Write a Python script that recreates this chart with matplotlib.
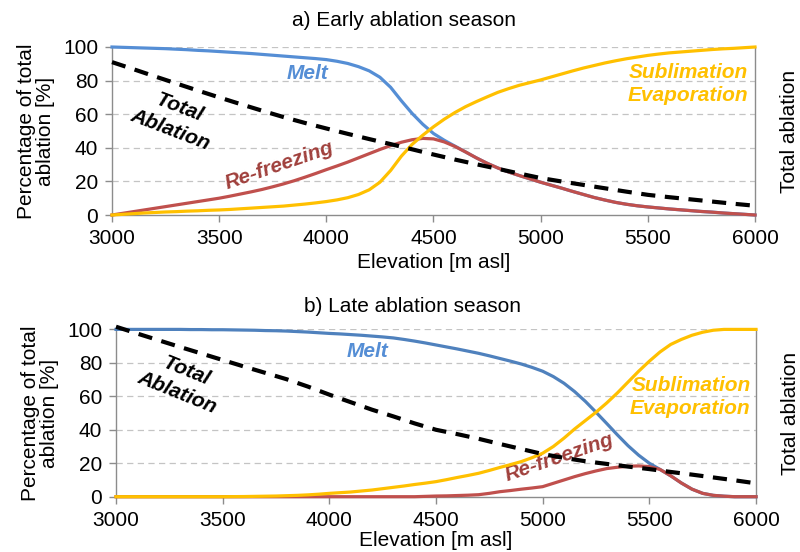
import matplotlib
matplotlib.use("Agg")
from matplotlib import pyplot as plt

plt.rcParams["font.family"] = ["Liberation Sans", "DejaVu Sans"]

# ---------------------------------------------------------------- data
elev = list(range(3000, 6001, 100))       # dashed total ablation
elev_f = list(range(3000, 6001, 50))      # contribution curves

# a) early ablation season [% of total ablation]
melt_a = [100, 99.8, 99.6, 99.4, 99.2, 99.0, 98.7, 98.4, 98.0, 97.7,
          97.3, 96.9, 96.5, 96.1, 95.6, 95.1, 94.6, 94.1, 93.6, 93.1,
          92.5, 91.5, 90.2, 88.3, 85.8, 82.0, 76.0, 68.0, 60.5, 54.0,
          48.5, 44.5, 41.0, 37.5, 34.0, 30.8, 28.0, 25.6, 23.5, 21.5,
          19.5, 17.7, 15.9, 14.0, 12.2, 10.4, 8.9, 7.5, 6.4, 5.5,
          4.8, 4.2, 3.6, 3.1, 2.6, 2.1, 1.7, 1.2, 0.8, 0.4, 0]
refreeze_a = [0, 1, 2, 3, 4, 5, 6, 7, 8, 9,
              10, 11.2, 12.5, 13.8, 15.2, 16.8, 18.5, 20.4, 22.5, 24.7,
              27.0, 29.2, 31.5, 34.0, 36.5, 39.0, 41.3, 43.3, 44.8, 45.6,
              45.3, 43.5, 40.8, 37.5, 34.0, 30.8, 28.0, 25.6, 23.5, 21.5,
              19.5, 17.7, 15.9, 14.0, 12.2, 10.4, 8.9, 7.5, 6.4, 5.5,
              4.8, 4.2, 3.6, 3.1, 2.6, 2.1, 1.7, 1.2, 0.8, 0.4, 0]
sublim_a = [0, 0.4, 0.8, 1.2, 1.5, 1.8, 2.0, 2.3, 2.5, 2.8,
            3.0, 3.3, 3.7, 4.1, 4.5, 4.9, 5.3, 5.9, 6.5, 7.2,
            8.0, 9.0, 10.3, 12.2, 15.0, 19.5, 26.5, 35.0, 42.0, 47.5,
            52.5, 57.0, 61.0, 64.5, 67.5, 70.3, 73.0, 75.2, 77.2, 78.8,
            80.4, 82.2, 84.0, 85.8, 87.5, 89.0, 90.5, 91.8, 93.0, 94.0,
            95.0, 95.8, 96.5, 97.0, 97.5, 98.0, 98.5, 98.9, 99.2, 99.6, 100]
total_a = [91, 86.8, 82.5, 78.3, 74.1, 70.0, 66.0, 62.1, 58.3, 54.8, 51.5,
           48.3, 45.2, 42.2, 39.1, 36.0, 33.0, 30.2, 27.5, 24.7, 22.0,
           19.9, 17.9, 15.9, 13.9, 12.0, 10.6, 9.3, 8.0, 6.7, 5.5]

# b) late ablation season
melt_b = [100, 100, 100, 100, 100, 100, 100, 99.9, 99.9, 99.8,
          99.8, 99.7, 99.6, 99.5, 99.3, 99.2, 99.0, 98.7, 98.4, 98.0,
          97.6, 97.3, 96.9, 96.5, 96.0, 95.5, 94.9, 94.0, 93.0, 91.9,
          90.7, 89.5, 88.3, 87.0, 85.7, 84.2, 82.6, 81.0, 79.3, 77.3,
          75.0, 71.8, 67.8, 62.8, 57.0, 50.5, 43.8, 37.0, 30.5, 24.8,
          20.0, 16.3, 12.5, 8.2, 4.5, 2.0, 0.8, 0.3, 0, 0, 0]
refreeze_b = [0, 0, 0, 0, 0, 0, 0, 0, 0, 0,
              0, 0, 0, 0, 0, 0, 0, 0, 0, 0,
              0, 0, 0, 0, 0, 0, 0, 0, 0, 0.2,
              0.4, 0.5, 0.7, 0.9, 1.2, 2.0, 3.0, 3.7, 4.5, 5.2,
              6.0, 8.0, 10.0, 12.0, 13.8, 15.4, 16.8, 17.6, 18.2, 18.4,
              18.0, 16.3, 12.5, 8.2, 4.5, 2.0, 0.8, 0.3, 0, 0, 0]
sublim_b = [0, 0, 0, 0, 0, 0, 0, 0, 0, 0,
            0, 0.05, 0.1, 0.2, 0.3, 0.4, 0.6, 0.8, 1.1, 1.5,
            2.0, 2.4, 2.8, 3.4, 4.0, 4.8, 5.6, 6.4, 7.3, 8.1,
            9.0, 10.2, 11.5, 12.7, 14.0, 15.7, 17.5, 19.2, 21.0, 23.3,
            26.0, 30.0, 35.0, 40.5, 45.5, 50.5, 56.0, 62.0, 68.5, 75.0,
            81.0, 86.5, 91.0, 94.0, 96.5, 98.3, 99.5, 100, 100, 100, 100]
total_b = [101.6, 97.5, 93.5, 89.5, 85.6, 81.7, 77.8, 74.0, 70.2, 65.8, 61.0,
           56.5, 52.0, 48.0, 43.8, 40.0, 37.4, 34.6, 31.5, 28.5, 25.5,
           23.2, 21.2, 19.6, 18.0, 16.5, 14.8, 13.2, 11.5, 9.8, 8.0]

x_ticks = [3000, 3500, 4000, 4500, 5000, 5500, 6000]
y_ticks = [0, 20, 40, 60, 80, 100]

yellow = "#FFC000"
red = "#C0504D"
spine_col = "#8C8C8C"
fs = 15

fig = plt.figure(figsize=(8, 5.52), dpi=100)
ax_a = fig.add_axes([112 / 800, 1 - 215 / 552, 643 / 800, 168 / 552])
ax_b = fig.add_axes([116 / 800, 1 - 496.7 / 552, 640 / 800, 167.3 / 552])


def style_axes(ax, xpad):
    ax.set_xlim(3000, 6000)
    ax.set_ylim(0, 100)
    ax.set_xticks(x_ticks)
    ax.set_yticks(y_ticks)
    ax.tick_params(labelsize=fs, length=5, width=1, color=spine_col, pad=5)
    for s in ["left", "bottom", "right"]:
        ax.spines[s].set_color(spine_col)
        ax.spines[s].set_linewidth(1)
    ax.spines["top"].set_visible(False)
    for v in y_ticks[1:]:
        ax.axhline(v, color="#C4C4C4", lw=0.9, ls=(0, (5, 3.5)), zorder=0)
    ax.set_xlabel("Elevation [m asl]", fontsize=fs, labelpad=xpad)
    ax.set_ylabel("Percentage of total\nablation [%]", fontsize=fs, labelpad=6,
                  linespacing=1.0)
    ax.text(1.054, 0.5, "Total ablation", transform=ax.transAxes, rotation=90,
            ha="center", va="center", fontsize=fs)


def draw(ax, melt, refreeze, sublim, total, blue):
    ax.plot(elev_f, melt, color=blue, lw=2.3, clip_on=False, zorder=3)
    ax.plot(elev_f, refreeze, color=red, lw=2.3, clip_on=False, zorder=4)
    ax.plot(elev_f, sublim, color=yellow, lw=2.3, clip_on=False, zorder=5)
    line, = ax.plot(elev, total, color="black", lw=3, clip_on=False, zorder=6)
    line.set_dashes((3.4, 2.3))
    line.set_dash_capstyle("butt")


lab = dict(fontsize=fs, fontweight="bold", fontstyle="italic")

# ----------------------------------------------- a) early ablation season
style_axes(ax_a, 4)
draw(ax_a, melt_a, refreeze_a, sublim_a, total_a, "#558ED5")
ax_a.text(3910, 84.5, "Melt", color="#558ED5", ha="center", va="center", **lab)
ax_a.text(3294, 57.5, "Total\nAblation", color="black", ha="center", va="center",
          rotation=-21, rotation_mode="anchor", linespacing=1.3, **lab)
ax_a.text(3780, 29.5, "Re-freezing", color="#A0403C", ha="center", va="center",
          rotation=19, rotation_mode="anchor", **lab)
ax_a.text(5967, 78, "Sublimation\nEvaporation", color=yellow, ha="right",
          va="center", multialignment="right", linespacing=1.3, **lab)
fig.text(404 / 800, 1 - 20 / 552, "a) Early ablation season", ha="center",
         va="center", fontsize=fs)

# ------------------------------------------------ b) late ablation season
style_axes(ax_b, 1)
draw(ax_b, melt_b, refreeze_b, sublim_b, total_b, "#4F81BD")
ax_b.text(4181, 86.5, "Melt", color="#558ED5", ha="center", va="center", **lab)
ax_b.text(3309, 68.5, "Total\nAblation", color="black", ha="center", va="center",
          rotation=-22, rotation_mode="anchor", linespacing=1.3, **lab)
ax_b.text(5080, 23.5, "Re-freezing", color="#A0403C", ha="center", va="center",
          rotation=19, rotation_mode="anchor", **lab)
ax_b.text(5975, 59.5, "Sublimation\nEvaporation", color=yellow, ha="right",
          va="center", multialignment="right", linespacing=1.3, **lab)
fig.text(412 / 800, 1 - 307 / 552, "b) Late ablation season", ha="center",
         va="center", fontsize=fs)

fig.savefig("out.png", dpi=100)
